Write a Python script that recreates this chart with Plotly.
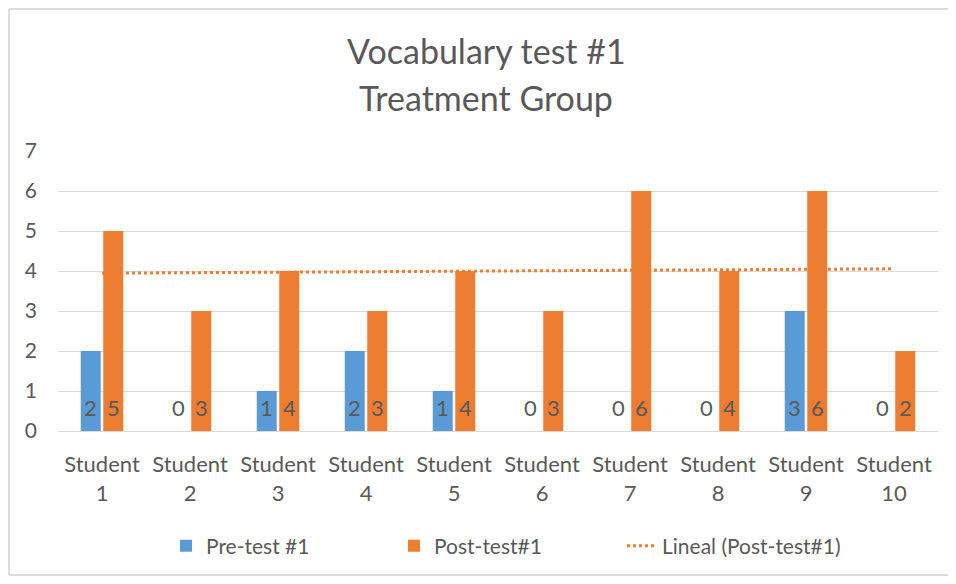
import numpy as np
import plotly.graph_objects as go

students = ["Student<br>1", "Student<br>2", "Student<br>3", "Student<br>4", "Student<br>5",
            "Student<br>6", "Student<br>7", "Student<br>8", "Student<br>9", "Student<br>10"]
pre_test = [2, 0, 1, 2, 1, 0, 0, 0, 3, 0]
post_test = [5, 3, 4, 3, 4, 3, 6, 4, 6, 2]
y_ticks = [0, 1, 2, 3, 4, 5, 6, 7]

BLUE = "#5b9bd5"
ORANGE = "#ed7d31"
TEXT = "#595959"
GRID = "#d9d9d9"
FRAME = "#dcdcdc"
FONT = "Lato, 'Open Sans', sans-serif"

x = np.arange(1, len(students) + 1)
slope, intercept = np.polyfit(x, post_test, 1)
trend = slope * x + intercept

# page body has an 8px margin; figure coordinates are window coordinates minus 8
OFF = 8
W, H = 956 - 2 * OFF, 584 - 2 * OFF
L, R, T, B = 58 - OFF, W - (938 - OFF), 151 - OFF, H - (431 - OFF)
pw, ph = W - L - R, H - T - B

def px_x(p):
    return (p - OFF - L) / pw

def px_y(p):
    return (H - B - (p - OFF)) / ph

fig = go.Figure()
fig.add_trace(go.Bar(x=x, y=pre_test, name="Pre-test #1", marker_color=BLUE,
                     marker_line_width=0))
fig.add_trace(go.Bar(x=x, y=post_test, name="Post-test#1", marker_color=ORANGE,
                     marker_line_width=0))
fig.add_trace(go.Scatter(x=x, y=trend, mode="lines", name="Lineal (Post-test#1)",
                         line=dict(color=ORANGE, width=3, dash="dot")))

bar_off = 0.128
annotations = []
for i, (a, b) in enumerate(zip(pre_test, post_test)):
    for v, dx in ((a, -bar_off), (b, bar_off)):
        annotations.append(dict(x=x[i] + dx, y=0, xref="x", yref="y", text=str(v),
                                showarrow=False, yanchor="middle", yshift=24,
                                font=dict(family=FONT, size=22, color=TEXT)))

annotations.append(dict(x=px_x(486), y=px_y(51), xref="paper", yref="paper",
                        text="Vocabulary test #1", showarrow=False, yanchor="middle",
                        font=dict(family=FONT, size=34, color=TEXT)))
annotations.append(dict(x=px_x(486), y=px_y(97), xref="paper", yref="paper",
                        text="Treatment Group", showarrow=False, yanchor="middle",
                        font=dict(family=FONT, size=34, color=TEXT)))

frame = dict(type="line", xref="paper", yref="paper", line=dict(color=FRAME, width=2),
             layer="below")
shapes = [
    dict(frame, x0=px_x(9), x1=px_x(9), y0=px_y(575), y1=px_y(9)),
    dict(frame, x0=px_x(9), x1=px_x(948), y0=px_y(9), y1=px_y(9)),
    dict(frame, x0=px_x(9), x1=px_x(948), y0=px_y(575), y1=px_y(575)),
]

fig.update_layout(
    width=W, height=H,
    margin=dict(l=L, r=R, t=T, b=B),
    paper_bgcolor="white", plot_bgcolor="white",
    barmode="group", bargap=0.489, bargroupgap=0.111,
    font=dict(family=FONT, color=TEXT, size=22),
    xaxis=dict(tickmode="array", tickvals=list(x), ticktext=students,
               range=[0.5, len(students) + 0.5], showgrid=False, zeroline=False,
               showline=False, ticks="", ticklabelstandoff=18,
               tickfont=dict(size=22, color=TEXT)),
    yaxis=dict(range=[0, 7], tickvals=y_ticks, showgrid=True, gridcolor=GRID,
               gridwidth=1, zeroline=True, zerolinecolor=GRID, zerolinewidth=1,
               showline=False, ticks="", ticklabelstandoff=20,
               tickfont=dict(size=21, color=TEXT)),
    legend=dict(orientation="h", x=px_x(166), xanchor="left", y=px_y(546),
                yanchor="middle", font=dict(size=21, color=TEXT),
                itemwidth=30, entrywidth=183, traceorder="normal"),
    annotations=annotations,
    shapes=shapes,
    showlegend=True,
)

fig.write_html("out.html")
